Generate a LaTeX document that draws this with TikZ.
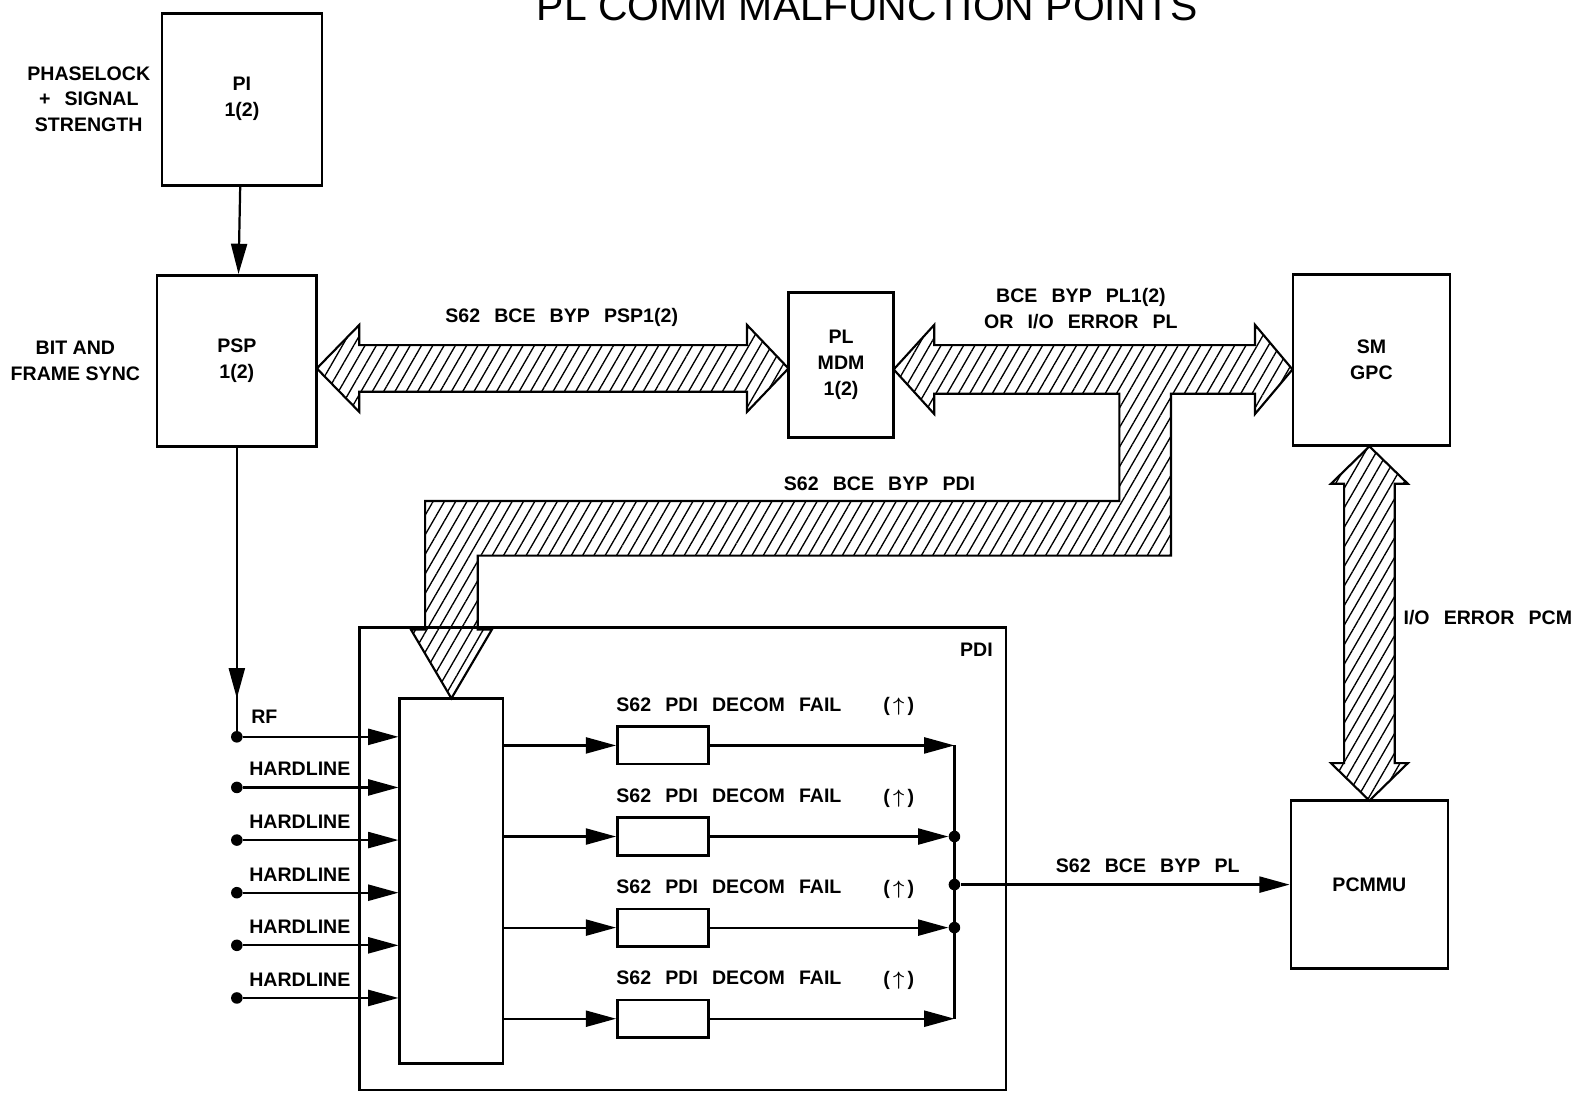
\documentclass[tikz,border=0pt]{standalone}
\usepackage{amsmath}
\usepackage{fontspec}
\setmainfont{Liberation Sans}[WordSpace=2.6]
\newfontfamily\titlefont{Liberation Sans}
\usetikzlibrary{positioning}
\usetikzlibrary{calc}
\usetikzlibrary{arrows.meta}
\usetikzlibrary{patterns.meta}

\begin{document}
\begin{tikzpicture}[x=0.02cm, y=-0.02cm,
    font=\fontsize{11}{14.5}\selectfont\bfseries,
    box/.style={draw, line width=1.5pt, inner sep=0pt, align=center},
    lbl/.style={inner sep=0pt, align=center},
    hatch/.style={draw, line width=1.2pt, pattern={Lines[angle=60, distance=5.5pt, line width=0.75pt]}},
    wire/.style={line width=1.25pt},
    sig/.style={line width=1.25pt, -{Triangle[length=17pt, width=9pt]}},
    dot/.style={circle, fill, inner sep=0pt, minimum size=6.5pt}]

    \useasboundingbox (0,0) rectangle (1568,1082);

    \node[lbl, anchor=base, font=\titlefont\fontsize{23}{23}\selectfont] (title) at (857,20) {PL COMM MALFUNCTION POINTS};

    \node[box, minimum width=3.16cm, minimum height=3.4cm] (pi) at (239,98) {PI\\1(2)};
    \node[box, minimum width=3.16cm, minimum height=3.38cm] (psp) at (234,356.5) {PSP\\1(2)};
    \node[box, minimum width=2.08cm, minimum height=2.86cm] (mdm) at (831,360.5) {PL\\MDM\\1(2)};
    \node[box, minimum width=3.1cm, minimum height=3.38cm] (gpc) at (1355,355.5) {SM\\GPC};
    \node[box, minimum width=3.1cm, minimum height=3.32cm] (pcmmu) at (1353,874) {PCMMU};

    \node[lbl, left=0.2cm of pi] (phase) {PHASELOCK\\+ SIGNAL\\STRENGTH};
    \node[lbl, left=0.3cm of psp, font=\titlefont\fontsize{11}{14.5}\selectfont\bfseries] (sync) {BIT AND\\FRAME SYNC};

    \node[box, minimum width=12.78cm, minimum height=9.14cm] (pdi) at (674.5,848.5) {};
    \node[lbl, below left=0.32cm and 0.28cm of pdi.north east] (pdilbl) {PDI};
    \node[box, minimum width=2.04cm, minimum height=7.22cm] (mux) at (446,870.5) {};

    \node[box, minimum width=1.8cm, minimum height=0.74cm] (dec1) at (655,736.5) {};
    \node[box, minimum width=1.8cm, minimum height=0.74cm] (dec2) at (655,826.5) {};
    \node[box, minimum width=1.8cm, minimum height=0.74cm] (dec3) at (655,916.5) {};
    \node[box, minimum width=1.8cm, minimum height=0.74cm] (dec4) at (655,1006.5) {};

    \node[lbl, above right=0.26cm and 0cm of dec1.north west] (fail1) {S62 PDI DECOM FAIL};
    \node[lbl, above right=0.26cm and 0cm of dec2.north west] (fail2) {S62 PDI DECOM FAIL};
    \node[lbl, above right=0.26cm and 0cm of dec3.north west] (fail3) {S62 PDI DECOM FAIL};
    \node[lbl, above right=0.26cm and 0cm of dec4.north west] (fail4) {S62 PDI DECOM FAIL};
    \node[lbl] (up1) at (888,698) {(\,$\boldsymbol{\uparrow}$\,)};
    \node[lbl] (up2) at (888,789) {(\,$\boldsymbol{\uparrow}$\,)};
    \node[lbl] (up3) at (888,879) {(\,$\boldsymbol{\uparrow}$\,)};
    \node[lbl] (up4) at (888,969) {(\,$\boldsymbol{\uparrow}$\,)};

    \node[dot] (rf) at (234,728) {};
    \node[dot] (h1) at (234,778) {};
    \node[dot] (h2) at (234,830) {};
    \node[dot] (h3) at (234,882) {};
    \node[dot] (h4) at (234,934) {};
    \node[dot] (h5) at (234,986) {};
    \node[lbl, above right=0.26cm and 0.28cm of rf.center] (rflbl) {RF};
    \node[lbl, above right=0.22cm and 0.24cm of h1.center] (hl1) {HARDLINE};
    \node[lbl, above right=0.22cm and 0.24cm of h2.center] (hl2) {HARDLINE};
    \node[lbl, above right=0.22cm and 0.24cm of h3.center] (hl3) {HARDLINE};
    \node[lbl, above right=0.22cm and 0.24cm of h4.center] (hl4) {HARDLINE};
    \node[lbl, above right=0.22cm and 0.24cm of h5.center] (hl5) {HARDLINE};

    \coordinate (m1) at (943,736.5);
    \coordinate (m4) at (943,1006.5);
    \node[dot] (d2) at (943,826.5) {};
    \node[dot] (dm) at (943,874) {};
    \node[dot] (d3) at (943,916.5) {};

    \draw[sig] (pi) -- (psp);
    \draw[wire] (psp.south) -- (rf);
    \draw[sig] (psp.south) -- ($(rf)+(0,-38)$);

    \draw[sig] (rf) -- (mux.west |- rf);
    \draw[sig] (h1) -- (mux.west |- h1);
    \draw[sig] (h2) -- (mux.west |- h2);
    \draw[sig] (h3) -- (mux.west |- h3);
    \draw[sig] (h4) -- (mux.west |- h4);
    \draw[sig] (h5) -- (mux.west |- h5);

    \draw[sig] (mux.east |- dec1) -- (dec1.west);
    \draw[sig] (mux.east |- dec2) -- (dec2.west);
    \draw[sig] (mux.east |- dec3) -- (dec3.west);
    \draw[sig] (mux.east |- dec4) -- (dec4.west);

    \draw[sig] (dec1.east) -- (m1);
    \draw[sig] (dec2.east) -- (d2);
    \draw[sig] (dec3.east) -- (d3);
    \draw[sig] (dec4.east) -- (m4);
    \draw[wire] (m1) -- (m4);
    \draw[sig] (dm) -- (pcmmu.west |- dm);
    \node[lbl] (bcepl) at (1134,855) {S62 BCE BYP PL};

    \draw[hatch] (313,364) -- (355,321) -- (355,341) -- (738,341) -- (738,321) -- (779,364)
        -- (738,407) -- (738,387) -- (355,387) -- (355,407) -- cycle;
    \node[lbl] (bcepsp) at (555,314) {S62 BCE BYP PSP1(2)};

    \draw[hatch] (883,365) -- (923,321) -- (923,341) -- (1240,341) -- (1240,321) -- (1277,365)
        -- (1240,409) -- (1240,389) -- (1157,389) -- (1157,549) -- (472,549) -- (472,622)
        -- (486,622) -- (446,690) -- (406,622) -- (420,622) -- (420,495) -- (1106,495)
        -- (1106,389) -- (923,389) -- (923,409) -- cycle;
    \node[lbl] (bcegpc) at (1068,305) {BCE BYP PL1(2)\\OR I/O ERROR PL};
    \node[lbl] (bcepdi) at (869,478) {S62 BCE BYP PDI};

    \draw[hatch] (1353,441) -- (1391,478) -- (1378,478) -- (1378,754) -- (1391,754) -- (1353,791)
        -- (1315,754) -- (1328,754) -- (1328,478) -- (1315,478) -- cycle;
    \node[lbl] (iopcm) at (1470,610) {I/O ERROR PCM};

\end{tikzpicture}
\end{document}
